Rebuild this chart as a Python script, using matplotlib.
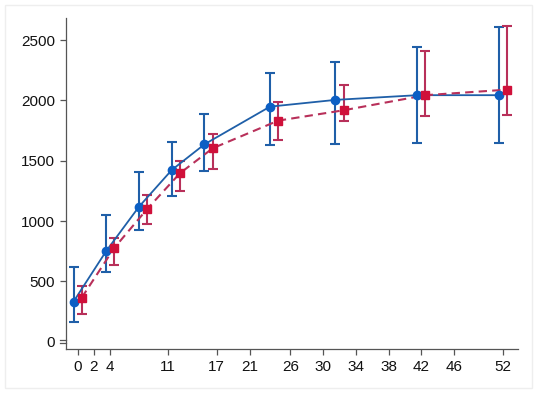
# Imports-------------------------------------
import numpy as np
import matplotlib.pyplot as plt
from matplotlib.patches import Rectangle
import matplotlib.transforms as mtransforms

plt.rcParams['font.family'] = ['Liberation Sans', 'DejaVu Sans']

# Datos -----------------------------------------
semanas = np.array([0, 4, 8, 12, 16, 24, 32, 42, 52])

azul_media = [332, 752, 1119, 1423, 1636, 1948, 2004, 2043, 2043]
azul_sup = [617, 1050, 1404, 1653, 1888, 2230, 2321, 2443, 2606]
azul_inf = [161, 575, 926, 1205, 1415, 1633, 1636, 1647, 1650]

rojo_media = [365, 779, 1100, 1396, 1603, 1832, 1918, 2043, 2089]
rojo_sup = [464, 862, 1219, 1498, 1719, 1990, 2128, 2410, 2614]
rojo_inf = [232, 633, 976, 1249, 1434, 1670, 1830, 1873, 1882]

xticks = [0, 2, 4, 11, 17, 21, 26, 30, 34, 38, 42, 46, 52]
yticks = [0, 500, 1000, 1500, 2000, 2500]

# Figura ----------------------------------------
fig = plt.figure(figsize=(5.37, 3.93), dpi=100)
ax = fig.add_axes([0.1223, 0.1112, 0.8423, 0.8422])

c_azul = '#1f5fa8'
c_azul_m = '#0c5fc4'
c_rojo = '#b8305a'
c_rojo_m = '#d0103a'

x_azul = semanas - 0.5
x_rojo = semanas + 0.5

ma = np.array(azul_media)
mr = np.array(rojo_media)
err_a = [ma - np.array(azul_inf), np.array(azul_sup) - ma]
err_r = [mr - np.array(rojo_inf), np.array(rojo_sup) - mr]

ax.errorbar(x_azul, ma, yerr=err_a, fmt='none', ecolor=c_azul,
            elinewidth=1.5, capsize=3.5, capthick=1.5, zorder=2)
ax.errorbar(x_rojo, mr, yerr=err_r, fmt='none', ecolor=c_rojo,
            elinewidth=1.5, capsize=3.5, capthick=1.5, zorder=2)

ax.plot(x_azul, ma, '-', color=c_azul, lw=1.3, zorder=3)
ax.plot(x_rojo, mr, '--', color=c_rojo, lw=1.5, dashes=(4, 2.5), zorder=3)
ax.plot(x_azul, ma, 'o', color=c_azul_m, ms=6, zorder=4)
ax.plot(x_rojo, mr, 's', color=c_rojo_m, ms=6, zorder=4)

ax.set_xlim(-1.46, 53.8)
ax.set_ylim(-63, 2680)
ax.set_xticks(xticks)
ax.set_yticks(yticks)
ax.tick_params(colors='#555555', labelcolor='#111111', labelsize=11,
               length=4.5, width=0.9, pad=3)
for lado in ['top', 'right']:
    ax.spines[lado].set_visible(False)
for lado in ['left', 'bottom']:
    ax.spines[lado].set_color('#555555')
    ax.spines[lado].set_linewidth(0.9)

# marca doble en el 0 del eje y
trans = mtransforms.blended_transform_factory(ax.transAxes, ax.transData)
for dy in [-14, 14]:
    ax.plot([-0.013, 0], [dy, dy], color='#555555', lw=0.9,
            transform=trans, clip_on=False)
ax.yaxis.get_major_ticks()[0].tick1line.set_visible(False)

# borde tenue del grafico
fig.patches.append(Rectangle((0.01, 0.012), 0.98, 0.975, transform=fig.transFigure,
                             fill=False, edgecolor='#eeeeee', lw=1))

plt.savefig('out.png', dpi=100)
